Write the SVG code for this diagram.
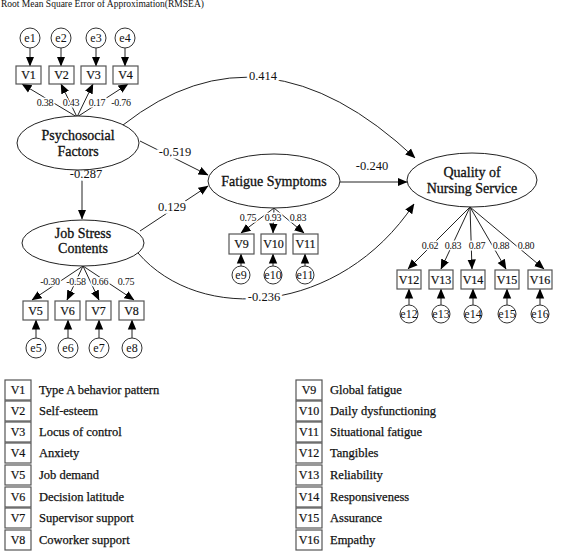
<svg xmlns="http://www.w3.org/2000/svg" width="571" height="554" viewBox="0 0 571 554">
<defs>
<marker id="arr" markerUnits="userSpaceOnUse" markerWidth="10" markerHeight="10" viewBox="0 0 10 10" refX="9.5" refY="5" orient="auto">
<path d="M0,0.8 L10,5 L0,9.2 Z" fill="#000"/>
</marker>
<style>
text{font-family:"Liberation Serif","DejaVu Serif",serif;fill:#111}
.lat{fill:#fff;stroke:#222;stroke-width:1}
.box{fill:#fff;stroke:#555;stroke-width:1.2}
.err{fill:#fff;stroke:#333;stroke-width:1}
.ln{fill:none;stroke:#222;stroke-width:1;marker-end:url(#arr)}
.lt{font-size:14px;text-anchor:middle;stroke:#111;stroke-width:0.3}
.bt{font-size:12px;text-anchor:middle;stroke:#111;stroke-width:0.2}
.et{font-size:12px;text-anchor:middle}
.ld{font-size:10px;text-anchor:middle;stroke:#fff;stroke-width:3;paint-order:stroke;letter-spacing:-0.3px}
.pl{font-size:12.5px;text-anchor:middle;stroke:#fff;stroke-width:5;paint-order:stroke}
.lg{font-size:12.5px;stroke:#111;stroke-width:0.25}
</style>
</defs>
<rect width="571" height="554" fill="#fff"/>
<text x="1" y="7" font-size="9.5" fill="#444">Root Mean Square Error of Approximation(RMSEA)</text>

<g id="connectors">
<line class="ln" x1="30" y1="48" x2="30" y2="66"/>
<line class="ln" x1="61" y1="48" x2="61" y2="66"/>
<line class="ln" x1="96" y1="48" x2="96" y2="66"/>
<line class="ln" x1="125" y1="48" x2="125" y2="66"/>
<line class="ln" x1="36" y1="338" x2="36" y2="320"/>
<line class="ln" x1="68" y1="338" x2="68" y2="320"/>
<line class="ln" x1="99" y1="338" x2="99" y2="320"/>
<line class="ln" x1="132" y1="338" x2="132" y2="320"/>
<line class="ln" x1="241" y1="266" x2="241" y2="254"/>
<line class="ln" x1="273" y1="266" x2="273" y2="254"/>
<line class="ln" x1="305" y1="266" x2="305" y2="254"/>
<line class="ln" x1="409" y1="305" x2="409" y2="289"/>
<line class="ln" x1="441" y1="305" x2="441" y2="289"/>
<line class="ln" x1="473" y1="305" x2="473" y2="289"/>
<line class="ln" x1="507" y1="305" x2="507" y2="289"/>
<line class="ln" x1="540" y1="305" x2="540" y2="289"/>
<line class="ln" x1="77" y1="117" x2="22" y2="84"/>
<line class="ln" x1="77" y1="117" x2="61" y2="84"/>
<line class="ln" x1="77" y1="117" x2="93" y2="84"/>
<line class="ln" x1="77" y1="117" x2="128" y2="84"/>
<line class="ln" x1="83" y1="266" x2="32" y2="300"/>
<line class="ln" x1="83" y1="266" x2="67" y2="300"/>
<line class="ln" x1="83" y1="266" x2="99" y2="300"/>
<line class="ln" x1="83" y1="266" x2="134" y2="300"/>
<line class="ln" x1="274" y1="208" x2="241" y2="233"/>
<line class="ln" x1="274" y1="208" x2="273" y2="233"/>
<line class="ln" x1="274" y1="208" x2="304" y2="233"/>
<line class="ln" x1="470" y1="207" x2="408" y2="269"/>
<line class="ln" x1="470" y1="207" x2="441" y2="269"/>
<line class="ln" x1="470" y1="207" x2="472" y2="269"/>
<line class="ln" x1="470" y1="207" x2="506" y2="269"/>
<line class="ln" x1="470" y1="207" x2="544" y2="269"/>
<path class="ln" d="M123,125 Q263,15 415,158"/>
<line class="ln" x1="140" y1="141" x2="208" y2="175"/>
<line class="ln" x1="140" y1="231" x2="208" y2="186"/>
<line class="ln" x1="340" y1="182" x2="407" y2="182"/>
<line class="ln" x1="82" y1="170" x2="82" y2="219"/>
<path class="ln" d="M138,253 C200,325 340,315 414,204"/>
<text class="ld" x="45" y="106">0.38</text>
<text class="ld" x="71" y="106">0.43</text>
<text class="ld" x="97" y="106">0.17</text>
<text class="ld" x="121" y="106">-0.76</text>
<text class="ld" x="50" y="285">-0.30</text>
<text class="ld" x="76" y="285">-0.58</text>
<text class="ld" x="100" y="285">0.66</text>
<text class="ld" x="126" y="285">0.75</text>
<text class="ld" x="248" y="221">0.75</text>
<text class="ld" x="273" y="221">0.93</text>
<text class="ld" x="298" y="221">0.83</text>
<text class="ld" x="430" y="249">0.62</text>
<text class="ld" x="453" y="249">0.83</text>
<text class="ld" x="477" y="249">0.87</text>
<text class="ld" x="501" y="249">0.88</text>
<text class="ld" x="526" y="249">0.80</text>
<text class="pl" x="263" y="80">0.414</text>
<text class="pl" x="175" y="156">-0.519</text>
<text class="pl" x="172" y="211">0.129</text>
<text class="pl" x="372" y="170">-0.240</text>
<text class="pl" x="86" y="178">-0.287</text>
<text class="pl" x="264" y="301">-0.236</text>
</g>

<g id="psychosocial"><ellipse class="lat" cx="78" cy="143" rx="61" ry="27"/><text class="lt" x="78" y="140">Psychosocial</text><text class="lt" x="78" y="156">Factors</text></g>
<g id="jobstress"><ellipse class="lat" cx="83" cy="243" rx="61" ry="23"/><text class="lt" x="83" y="238">Job Stress</text><text class="lt" x="83" y="253">Contents</text></g>
<g id="fatigue"><ellipse class="lat" cx="274" cy="181" rx="66" ry="27"/><text class="lt" x="274" y="186">Fatigue Symptoms</text></g>
<g id="quality"><ellipse class="lat" cx="472" cy="180" rx="65" ry="27"/><text class="lt" x="472" y="177">Quality of</text><text class="lt" x="472" y="193">Nursing Service</text></g>

<g id="V1"><rect class="box" x="16" y="66" width="25" height="18"/><text class="bt" x="28.5" y="79">V1</text></g>
<g id="V2"><rect class="box" x="49" y="66" width="25" height="18"/><text class="bt" x="61.5" y="79">V2</text></g>
<g id="V3"><rect class="box" x="81" y="66" width="25" height="18"/><text class="bt" x="93.5" y="79">V3</text></g>
<g id="V4"><rect class="box" x="113" y="66" width="25" height="18"/><text class="bt" x="125.5" y="79">V4</text></g>
<g id="V5"><rect class="box" x="23" y="301" width="25" height="19"/><text class="bt" x="35.5" y="315">V5</text></g>
<g id="V6"><rect class="box" x="55" y="301" width="25" height="19"/><text class="bt" x="67.5" y="315">V6</text></g>
<g id="V7"><rect class="box" x="86" y="301" width="25" height="19"/><text class="bt" x="98.5" y="315">V7</text></g>
<g id="V8"><rect class="box" x="119" y="301" width="25" height="19"/><text class="bt" x="131.5" y="315">V8</text></g>
<g id="V9"><rect class="box" x="229" y="234" width="25" height="20"/><text class="bt" x="241.5" y="248">V9</text></g>
<g id="V10"><rect class="box" x="261" y="234" width="25" height="20"/><text class="bt" x="273.5" y="248">V10</text></g>
<g id="V11"><rect class="box" x="293" y="234" width="25" height="20"/><text class="bt" x="305.5" y="248">V11</text></g>
<g id="V12"><rect class="box" x="397" y="270" width="24" height="19"/><text class="bt" x="409" y="284">V12</text></g>
<g id="V13"><rect class="box" x="429" y="270" width="24" height="19"/><text class="bt" x="441" y="284">V13</text></g>
<g id="V14"><rect class="box" x="461" y="270" width="24" height="19"/><text class="bt" x="473" y="284">V14</text></g>
<g id="V15"><rect class="box" x="495" y="270" width="24" height="19"/><text class="bt" x="507" y="284">V15</text></g>
<g id="V16"><rect class="box" x="528" y="270" width="24" height="19"/><text class="bt" x="540" y="284">V16</text></g>

<g id="e1"><circle class="err" cx="30" cy="38" r="10"/><text class="et" x="30" y="42">e1</text></g>
<g id="e2"><circle class="err" cx="61" cy="38" r="10"/><text class="et" x="61" y="42">e2</text></g>
<g id="e3"><circle class="err" cx="96" cy="38" r="10"/><text class="et" x="96" y="42">e3</text></g>
<g id="e4"><circle class="err" cx="125" cy="38" r="10"/><text class="et" x="125" y="42">e4</text></g>
<g id="e5"><circle class="err" cx="36" cy="348" r="10"/><text class="et" x="36" y="352">e5</text></g>
<g id="e6"><circle class="err" cx="68" cy="348" r="10"/><text class="et" x="68" y="352">e6</text></g>
<g id="e7"><circle class="err" cx="99" cy="348" r="10"/><text class="et" x="99" y="352">e7</text></g>
<g id="e8"><circle class="err" cx="132" cy="348" r="10"/><text class="et" x="132" y="352">e8</text></g>
<g id="e9"><circle class="err" cx="241" cy="275" r="9"/><text class="et" x="241" y="279">e9</text></g>
<g id="e10"><circle class="err" cx="273" cy="275" r="9"/><text class="et" x="273" y="279">e10</text></g>
<g id="e11"><circle class="err" cx="305" cy="275" r="9"/><text class="et" x="305" y="279">e11</text></g>
<g id="e12"><circle class="err" cx="409" cy="314" r="9"/><text class="et" x="409" y="318">e12</text></g>
<g id="e13"><circle class="err" cx="441" cy="314" r="9"/><text class="et" x="441" y="318">e13</text></g>
<g id="e14"><circle class="err" cx="473" cy="314" r="9"/><text class="et" x="473" y="318">e14</text></g>
<g id="e15"><circle class="err" cx="507" cy="314" r="9"/><text class="et" x="507" y="318">e15</text></g>
<g id="e16"><circle class="err" cx="540" cy="314" r="9"/><text class="et" x="540" y="318">e16</text></g>

<g id="legend">
<rect class="box" x="5" y="380" width="26" height="20"/><text class="bt" x="18" y="394">V1</text><text class="lg" x="39" y="394">Type A behavior pattern</text>
<rect class="box" x="5" y="401" width="26" height="20"/><text class="bt" x="18" y="415">V2</text><text class="lg" x="39" y="415">Self-esteem</text>
<rect class="box" x="5" y="422" width="26" height="20"/><text class="bt" x="18" y="436">V3</text><text class="lg" x="39" y="436">Locus of control</text>
<rect class="box" x="5" y="443" width="26" height="20"/><text class="bt" x="18" y="457">V4</text><text class="lg" x="39" y="457">Anxiety</text>
<rect class="box" x="5" y="465" width="26" height="20"/><text class="bt" x="18" y="479">V5</text><text class="lg" x="39" y="479">Job demand</text>
<rect class="box" x="5" y="487" width="26" height="20"/><text class="bt" x="18" y="501">V6</text><text class="lg" x="39" y="501">Decision latitude</text>
<rect class="box" x="5" y="508" width="26" height="20"/><text class="bt" x="18" y="522">V7</text><text class="lg" x="39" y="522">Supervisor support</text>
<rect class="box" x="5" y="530" width="26" height="20"/><text class="bt" x="18" y="544">V8</text><text class="lg" x="39" y="544">Coworker support</text>
<rect class="box" x="296" y="380" width="26" height="20"/><text class="bt" x="309" y="394">V9</text><text class="lg" x="330" y="394">Global fatigue</text>
<rect class="box" x="296" y="401" width="26" height="20"/><text class="bt" x="309" y="415">V10</text><text class="lg" x="330" y="415">Daily dysfunctioning</text>
<rect class="box" x="296" y="422" width="26" height="20"/><text class="bt" x="309" y="436">V11</text><text class="lg" x="330" y="436">Situational fatigue</text>
<rect class="box" x="296" y="443" width="26" height="20"/><text class="bt" x="309" y="457">V12</text><text class="lg" x="330" y="457">Tangibles</text>
<rect class="box" x="296" y="465" width="26" height="20"/><text class="bt" x="309" y="479">V13</text><text class="lg" x="330" y="479">Reliability</text>
<rect class="box" x="296" y="487" width="26" height="20"/><text class="bt" x="309" y="501">V14</text><text class="lg" x="330" y="501">Responsiveness</text>
<rect class="box" x="296" y="508" width="26" height="20"/><text class="bt" x="309" y="522">V15</text><text class="lg" x="330" y="522">Assurance</text>
<rect class="box" x="296" y="530" width="26" height="20"/><text class="bt" x="309" y="544">V16</text><text class="lg" x="330" y="544">Empathy</text>
</g>
</svg>
